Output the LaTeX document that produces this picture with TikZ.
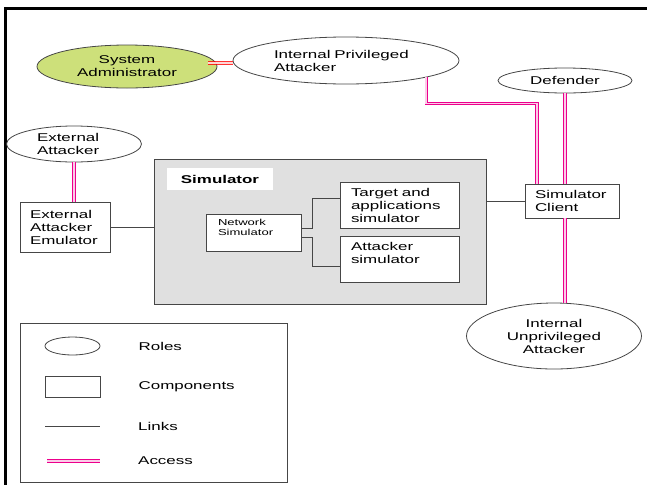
\documentclass[tikz,border=0pt]{standalone}
\usepackage{fontspec}
\setmainfont{Liberation Sans}[FakeStretch=1.5]
\usepackage{tikz}
\usetikzlibrary{shapes.geometric,positioning}

\definecolor{admingreen}{RGB}{205,224,122}
\definecolor{simgray}{RGB}{224,224,224}
\definecolor{edgegray}{RGB}{70,70,70}

\begin{document}
\begin{tikzpicture}[
    x=1pt, y=-1pt,
    font=\fontsize{11.3}{13}\selectfont,
    role/.style={draw=edgegray, ellipse, line width=0.8pt, inner sep=0pt, align=center},
    comp/.style={draw=edgegray, rectangle, line width=0.8pt, inner sep=0pt, align=left},
    legtext/.style={inner sep=0pt},
    link/.style={draw=edgegray, line width=0.8pt},
    access/.style={draw=magenta, double=magenta!20, double distance=1.4pt, line width=0.9pt}
  ]
    \useasboundingbox (0,0) rectangle (647,485);
    \draw[line width=3pt] (647,8) -| (5,485);

    \node[role, fill=admingreen, minimum width=180pt, minimum height=43pt] (sysadm) at (127,66.5) {System\\Administrator};
    \node[role, minimum width=226pt, minimum height=47pt, text width=144pt, align=left] (ipa) at (346,60.5) {Internal Privileged\\Attacker};
    \node[role, minimum width=134pt, minimum height=25pt] (defender) at (565,80.5) {Defender};
    \node[role, minimum width=135pt, minimum height=36pt, text width=74pt, align=left] (extatt) at (74,144) {External\\Attacker};
    \node[role, minimum width=175pt, minimum height=66pt] (iua) at (554,336) {Internal\\Unprivileged\\Attacker};

    \node[comp, minimum width=90pt, minimum height=50pt, text width=70pt] (eae) at (65,227) {External\\Attacker\\Emulator};
    \node[comp, fill=simgray, minimum width=332pt, minimum height=145pt] (sim) at (320,231.5) {};
    \node[fill=white, minimum width=106pt, minimum height=22pt, inner sep=0pt, font=\fontsize{11.3}{13}\selectfont\bfseries] (simlabel) at (220,179) {Simulator};
    \node[comp, fill=white, minimum width=95pt, minimum height=37pt, text width=71pt, font=\fontsize{8.7}{10.5}\selectfont] (netsim) at (253.5,232.5) {Network\\Simulator\\\mbox{}};
    \node[comp, fill=white, minimum width=119pt, minimum height=46pt, text width=97pt] (target) at (399.5,205) {Target and\\applications\\simulator};
    \node[comp, fill=white, minimum width=119pt, minimum height=46pt, text width=97pt] (attsim) at (399.5,259) {Attacker\\simulator\\\mbox{}};
    \node[comp, fill=white, minimum width=94pt, minimum height=34pt, text width=74pt] (simcli) at (572,201) {Simulator\\Client};

    \draw[link] (eae.east) -- (eae.east -| sim.west);
    \draw[link] (simcli.west -| sim.east) -- (simcli.west);
    \draw[link] ([yshift=4.5pt]netsim.east) -- ++(11,0) |- ([yshift=7pt]target.west);
    \draw[link] ([yshift=-4.5pt]netsim.east) -- ++(11,0) |- ([yshift=-7pt]attsim.west);

    \draw[access, draw=red, double=white, opacity=0.8] ([xshift=-9pt, yshift=3.5pt]sysadm.east) -- ([yshift=-2.5pt]ipa.west);
    \draw[access] (extatt.south) -- (extatt.south |- eae.north);
    \draw[access] (ipa.south east) -- ++(0,26) -| ([xshift=-35pt]simcli.north);
    \draw[access] (defender.south) -- (defender.south |- simcli.north);
    \draw[access] (defender.south |- simcli.south) -- (defender.south |- iua.north);

    \node[draw=edgegray, line width=0.8pt, minimum width=267pt, minimum height=159pt] (legend) at (153.5,402.5) {};
    \node[role, minimum width=55pt, minimum height=18pt] (legrole) at (72.5,346) {};
    \node[comp, minimum width=55pt, minimum height=21pt] (legcomp) at (72.5,386.5) {};
    \coordinate (linkstart) at (45,426);
    \coordinate (linkend) at (100,426);
    \coordinate (accstart) at (47,461);
    \coordinate (accend) at (100,461);
    \draw[link] (linkstart) -- (linkend);
    \draw[access] (accstart) -- (accend);
    \node[legtext, right=38pt of legrole] (roletxt) {Roles};
    \node[legtext, right=38pt of legcomp] (comptxt) {Components};
    \node[legtext, right=38pt of linkend] (linktxt) {Links};
    \node[legtext, right=38pt of accend] (acctxt) {Access};
\end{tikzpicture}
\end{document}
